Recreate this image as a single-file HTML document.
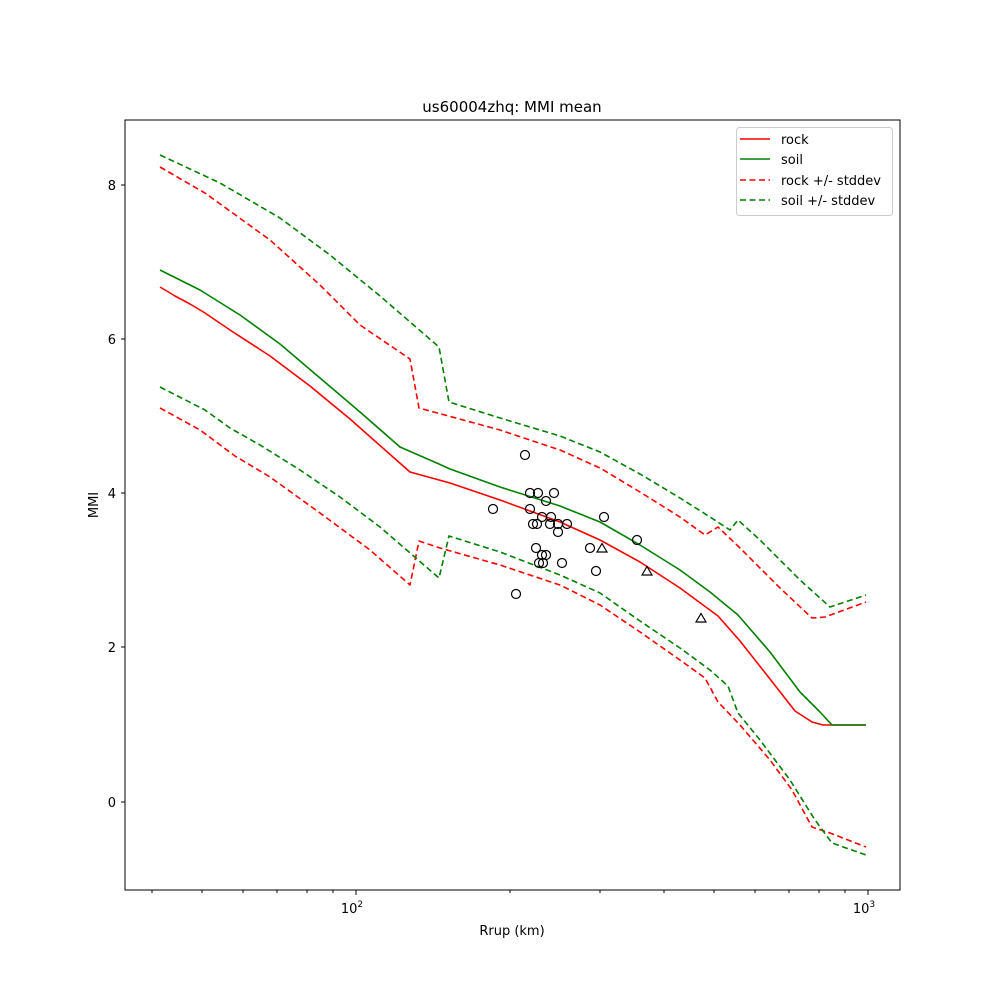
<!DOCTYPE html>
<html><head><meta charset="utf-8"><style>body{margin:0;background:#fff}svg{display:block}text{font-family:"DejaVu Sans","Liberation Sans",sans-serif;fill:#000}</style></head>
<body>
<svg width="1000" height="1000" viewBox="0 0 1000 1000" xmlns="http://www.w3.org/2000/svg">
<rect width="1000" height="1000" fill="#fff"/>
<text x="512" y="112" font-size="15" text-anchor="middle">us60004zhq: MMI mean</text>
<g fill="none" stroke-width="1.6" stroke-linejoin="round">
<polyline stroke="#ff0000" points="160,287 175,296 190,304 205,313 230,330 270,356 310,386 350,419 410,472 450,483 500,500 560,522 600,540 640,562 680,588 718,616 740,641 770,679 795,711 812,722 823,725 866,725"/>
<polyline stroke="#008000" points="160,270 200,290 240,315 280,344 320,378 360,412 400,447 439,464 450,469 500,487 560,506 600,522 640,545 680,570 710,592 738,615 770,652 800,692 820,712 832,725 866,725"/>
<g stroke-dasharray="6,3.5">
<polyline stroke="#ff0000" points="160,167 205,193 270,240 320,285 360,325 410,359 419,408 500,430 560,450 600,468 640,492 680,517 705,535 718,527 740,548 780,588 812,618 825,617 866,602"/>
<polyline stroke="#ff0000" points="160,408 200,430 235,456 270,477 320,513 370,550 410,585 419,541 440,548 500,565 560,585 600,605 640,632 680,660 705,678 718,702 740,725 770,760 792,790 812,827 830,833 866,847"/>
<polyline stroke="#008000" points="160,155 220,183 280,218 330,255 380,296 439,347 449,402 500,418 560,436 600,452 640,474 680,498 710,517 730,530 738,520 760,540 800,580 830,607 866,595"/>
<polyline stroke="#008000" points="160,387 205,410 230,428 260,445 300,470 340,497 380,527 439,578 449,536 500,552 560,575 600,593 640,621 680,648 710,670 728,686 738,713 760,740 790,780 815,820 832,843 866,855"/>
</g>
</g>
<g fill="none" stroke="#000" stroke-width="1.2">
<circle cx="525" cy="455" r="4.5"/><circle cx="530" cy="493" r="4.5"/><circle cx="538" cy="493" r="4.5"/><circle cx="554" cy="493" r="4.5"/><circle cx="546" cy="501" r="4.5"/><circle cx="493" cy="509" r="4.5"/><circle cx="530" cy="509" r="4.5"/><circle cx="542" cy="517" r="4.5"/><circle cx="551" cy="517" r="4.5"/><circle cx="604" cy="517" r="4.5"/><circle cx="533" cy="524" r="4.5"/><circle cx="537" cy="524" r="4.5"/><circle cx="550" cy="524" r="4.5"/><circle cx="558" cy="524" r="4.5"/><circle cx="567" cy="524" r="4.5"/><circle cx="558" cy="532" r="4.5"/><circle cx="637" cy="540" r="4.5"/><circle cx="536" cy="548" r="4.5"/><circle cx="590" cy="548" r="4.5"/><circle cx="542" cy="555" r="4.5"/><circle cx="546" cy="555" r="4.5"/><circle cx="539" cy="563" r="4.5"/><circle cx="543" cy="563" r="4.5"/><circle cx="562" cy="563" r="4.5"/><circle cx="596" cy="571" r="4.5"/><circle cx="516" cy="594" r="4.5"/>
<polygon points="602,543.5 597,552 607,552"/><polygon points="647,566.5 642,575 652,575"/><polygon points="701,613.5 696,622 706,622"/>
</g>
<rect x="125" y="120" width="775" height="770" fill="none" stroke="#000" stroke-width="1"/>
<g stroke="#000" stroke-width="1">
<line x1="125" y1="185" x2="121" y2="185"/><line x1="125" y1="339" x2="121" y2="339"/><line x1="125" y1="493" x2="121" y2="493"/><line x1="125" y1="647" x2="121" y2="647"/><line x1="125" y1="802" x2="121" y2="802"/>
<line x1="356" y1="890" x2="356" y2="895"/><line x1="868" y1="890" x2="868" y2="895"/>
<line x1="152" y1="890" x2="152" y2="893"/><line x1="202" y1="890" x2="202" y2="893"/><line x1="243" y1="890" x2="243" y2="893"/><line x1="277" y1="890" x2="277" y2="893"/><line x1="307" y1="890" x2="307" y2="893"/><line x1="333" y1="890" x2="333" y2="893"/>
<line x1="510" y1="890" x2="510" y2="893"/><line x1="600" y1="890" x2="600" y2="893"/><line x1="664" y1="890" x2="664" y2="893"/><line x1="714" y1="890" x2="714" y2="893"/><line x1="755" y1="890" x2="755" y2="893"/><line x1="789" y1="890" x2="789" y2="893"/><line x1="819" y1="890" x2="819" y2="893"/><line x1="845" y1="890" x2="845" y2="893"/>
</g>
<g font-size="13" text-anchor="end">
<text x="116" y="190">8</text><text x="116" y="344">6</text><text x="116" y="498">4</text><text x="116" y="652">2</text><text x="116" y="807">0</text>
</g>
<text x="352" y="913" font-size="13" text-anchor="middle">10<tspan font-size="9" dy="-6">2</tspan></text>
<text x="864" y="913" font-size="13" text-anchor="middle">10<tspan font-size="9" dy="-6">3</tspan></text>
<text x="512" y="935" font-size="13" text-anchor="middle">Rrup (km)</text>
<text x="98" y="505" font-size="13" text-anchor="middle" transform="rotate(-90 98 505)">MMI</text>
<rect x="736.5" y="127.5" width="156" height="88" rx="3" fill="#fff" stroke="#ccc"/>
<g stroke-width="1.6">
<line x1="740" y1="139" x2="770" y2="139" stroke="#ff0000"/>
<line x1="740" y1="159" x2="770" y2="159" stroke="#008000"/>
<line x1="740" y1="180" x2="770" y2="180" stroke="#ff0000" stroke-dasharray="6,3.5"/>
<line x1="740" y1="200" x2="770" y2="200" stroke="#008000" stroke-dasharray="6,3.5"/>
</g>
<g font-size="13"><text x="781" y="144">rock</text><text x="781" y="164">soil</text><text x="781" y="185">rock +/- stddev</text><text x="781" y="205">soil +/- stddev</text></g>
</svg>
</body></html>
